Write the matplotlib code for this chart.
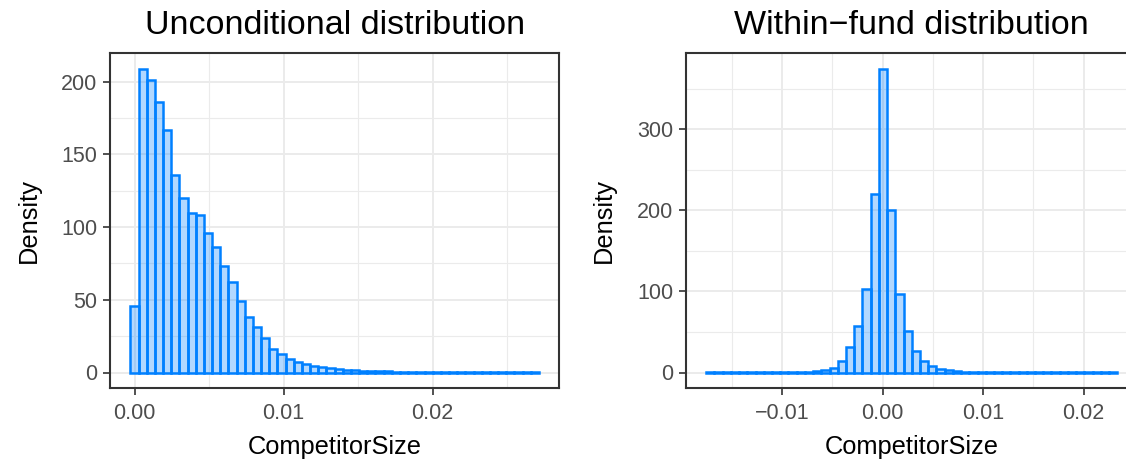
import matplotlib
matplotlib.use('Agg')
import matplotlib.pyplot as plt
from matplotlib.ticker import MultipleLocator
import numpy as np

plt.rcParams['font.family'] = ['Liberation Sans', 'DejaVu Sans']

# histogram data (50 bins each, density scale)
uncond_lo, uncond_hi = 0.0, 0.02685
uncond_density = [46, 209, 201, 186, 167, 136, 120, 110, 108, 96,
                  86, 73, 62, 49, 38, 31.5, 23.5, 16.5, 12.8, 9.3,
                  7.2, 5.8, 4.6, 3.6, 2.9, 2.3, 1.8, 1.5, 1.2, 1.0,
                  0.85, 0.7, 0.6, 0.5, 0.4, 0.35, 0.3, 0.25, 0.2, 0.18,
                  0.15, 0.12, 0.1, 0.1, 0.08, 0.07, 0.06, 0.05, 0.05, 0.04]

within_lo, within_hi = -0.01715, 0.02293
within_density = [0.02, 0.01, 0.01, 0.01, 0.02, 0.03, 0.05, 0.08, 0.1, 0.15,
                  0.25, 0.4, 0.7, 1.3, 2.7, 5.5, 14.3, 32, 57.5, 103,
                  220, 375, 201, 97, 51.5, 26.8, 14.3, 8.5, 4.3, 2.5,
                  1.3, 0.8, 0.5, 0.35, 0.25, 0.2, 0.15, 0.1, 0.08, 0.06,
                  0.05, 0.04, 0.03, 0.03, 0.02, 0.02, 0.02, 0.01, 0.01, 0.01]

panels = [
    ('Unconditional distribution', uncond_lo, uncond_hi, uncond_density,
     0.01, 50),
    ('Within\u2212fund distribution', within_lo, within_hi, within_density,
     0.01, 100),
]

W, H = 1126, 459
fig = plt.figure(figsize=(W / 100, H / 100), dpi=100)

# axes boxes in pixels: left, bottom(from top), width, height
boxes = [(110, 387.7, 449.3, 334.4), (685.7, 387.7, 452.1, 334.4)]

line_col = '#0080FF'
grid_col = '#EBEBEB'
tick_col = '#4D4D4D'

for (title, lo, hi, dens, xstep, ystep), (bx, by, bw, bh) in zip(panels, boxes):
    ax = fig.add_axes([bx / W, (H - by) / H, bw / W, bh / H])
    n = len(dens)
    centers = np.linspace(lo, hi, n)
    width = (hi - lo) / (n - 1)
    ax.bar(centers, dens, width=width, color=line_col, alpha=0.3,
           linewidth=0, zorder=3)
    ax.bar(centers, dens, width=width, fill=False, edgecolor=line_col,
           linewidth=1.8, zorder=4)

    # ggplot style 5% expansion
    x0, x1 = lo - width / 2, hi + width / 2
    xr = x1 - x0
    ax.set_xlim(x0 - 0.05 * xr, x1 + 0.05 * xr)
    ymax = max(dens)
    ax.set_ylim(-0.05 * ymax, ymax * 1.05)

    ax.xaxis.set_major_locator(MultipleLocator(xstep))
    ax.xaxis.set_minor_locator(MultipleLocator(xstep / 2))
    ax.yaxis.set_major_locator(MultipleLocator(ystep))
    ax.yaxis.set_minor_locator(MultipleLocator(ystep / 2))
    ax.xaxis.set_major_formatter(plt.FuncFormatter(
        lambda v, p: ('%.2f' % v).replace('-', '\u2212') if abs(v) > 1e-12 else '0.00'))

    ax.grid(which='major', color=grid_col, linewidth=1.4, zorder=0)
    ax.grid(which='minor', color=grid_col, linewidth=0.8, zorder=0)
    ax.set_axisbelow(True)
    ax.tick_params(which='minor', length=0)
    ax.tick_params(which='major', length=5, width=1.2, color='#333333',
                   labelsize=15.5, labelcolor=tick_col, pad=4)
    ax.tick_params(axis='x', pad=6)
    for s in ax.spines.values():
        s.set_color('#333333')
        s.set_linewidth(1.5)

    ax.set_title(title, fontsize=24.5, pad=14)
    ax.set_xlabel('CompetitorSize', fontsize=18.3, labelpad=8)
    ax.set_ylabel('Density', fontsize=18.3, labelpad=15)

fig.savefig('out.png', dpi=100)
